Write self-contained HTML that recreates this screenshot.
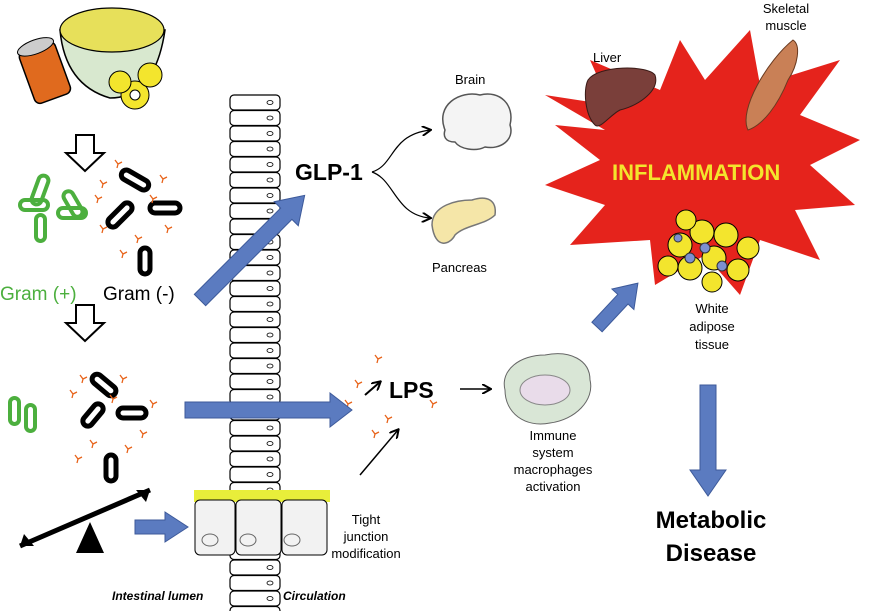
<!DOCTYPE html>
<html><head><meta charset="utf-8"><style>
html,body{margin:0;padding:0;background:#fff}
svg{display:block}
text{font-family:"Liberation Sans",sans-serif}
</style></head><body>
<svg width="876" height="611" viewBox="0 0 876 611" xmlns="http://www.w3.org/2000/svg">
<defs>
<marker id="ah" markerWidth="10" markerHeight="10" refX="8" refY="5" orient="auto" markerUnits="userSpaceOnUse"><path d="M0,0 L9,5 L0,10" fill="none" stroke="#000" stroke-width="2"/></marker>
<g id="cell"><rect x="0" y="0" width="50" height="15" rx="4" fill="#fff" stroke="#000" stroke-width="1.2"/><ellipse cx="40" cy="7.5" rx="3" ry="2" fill="none" stroke="#000" stroke-width="0.8"/></g>
<g id="lps" stroke="#e8641b" stroke-width="1.3" fill="none"><path d="M0,0 l3,4 l4,-2 M3,4 l-1,4"/></g>
</defs>

<g id="col">
<use href="#cell" x="230" y="95"/><use href="#cell" x="230" y="110.5"/><use href="#cell" x="230" y="126"/><use href="#cell" x="230" y="141.5"/><use href="#cell" x="230" y="157"/><use href="#cell" x="230" y="172.5"/><use href="#cell" x="230" y="188"/><use href="#cell" x="230" y="203.5"/><use href="#cell" x="230" y="219"/><use href="#cell" x="230" y="234.5"/><use href="#cell" x="230" y="250"/><use href="#cell" x="230" y="265.5"/><use href="#cell" x="230" y="281"/><use href="#cell" x="230" y="296.5"/><use href="#cell" x="230" y="312"/><use href="#cell" x="230" y="327.5"/><use href="#cell" x="230" y="343"/><use href="#cell" x="230" y="358.5"/><use href="#cell" x="230" y="374"/><use href="#cell" x="230" y="389.5"/><use href="#cell" x="230" y="405"/><use href="#cell" x="230" y="420.5"/><use href="#cell" x="230" y="436"/><use href="#cell" x="230" y="451.5"/><use href="#cell" x="230" y="467"/><use href="#cell" x="230" y="482.5"/><use href="#cell" x="230" y="498"/><use href="#cell" x="230" y="513.5"/><use href="#cell" x="230" y="529"/><use href="#cell" x="230" y="544.5"/><use href="#cell" x="230" y="560"/><use href="#cell" x="230" y="575.5"/><use href="#cell" x="230" y="591"/><use href="#cell" x="230" y="606.5"/>
</g>

<!-- food -->
<g transform="rotate(-20 45 70)">
<rect x="25" y="45" width="38" height="55" rx="6" fill="#e06a1e" stroke="#000" stroke-width="1.5"/>
<ellipse cx="44" cy="45" rx="19" ry="7" fill="#ccc" stroke="#000"/>
</g>
<path d="M60,30 q5,55 50,68 q45,0 55,-68 z" fill="#d8e8cf" stroke="#000" stroke-width="1.5"/>
<ellipse cx="112" cy="30" rx="52" ry="22" fill="#e7e05a" stroke="#000" stroke-width="1.2"/>
<circle cx="135" cy="95" r="14" fill="#f3e52d" stroke="#000"/><circle cx="135" cy="95" r="5" fill="#fff" stroke="#000"/>
<circle cx="150" cy="75" r="12" fill="#f3e52d" stroke="#000"/>
<circle cx="120" cy="82" r="11" fill="#f3e52d" stroke="#000"/>

<!-- open arrows -->
<path d="M76,135 h18 v18 h10 l-19,18 l-19,-18 h10 z" fill="#fff" stroke="#000" stroke-width="2"/>
<path d="M76,305 h18 v18 h10 l-19,18 l-19,-18 h10 z" fill="#fff" stroke="#000" stroke-width="2"/>

<!-- green bacteria -->
<g fill="none" stroke="#4caf3e" stroke-width="4">
<rect x="35" y="175" width="10" height="30" rx="5" transform="rotate(20 40 190)"/>
<rect x="20" y="200" width="28" height="10" rx="5"/>
<rect x="36" y="215" width="9" height="26" rx="4.5"/>
<rect x="58" y="208" width="28" height="10" rx="5"/>
<rect x="68" y="190" width="10" height="28" rx="5" transform="rotate(-30 73 204)"/>
<rect x="10" y="398" width="9" height="26" rx="4.5"/>
<rect x="26" y="405" width="9" height="26" rx="4.5"/>
</g>
<g fill="none" stroke="#000" stroke-width="5">
<rect x="120" y="175" width="30" height="10" rx="5" transform="rotate(30 135 180)"/>
<rect x="105" y="210" width="30" height="10" rx="5" transform="rotate(-45 120 215)"/>
<rect x="150" y="203" width="30" height="10" rx="5"/>
<rect x="140" y="248" width="10" height="26" rx="5"/>
<rect x="90" y="380" width="28" height="10" rx="5" transform="rotate(40 104 385)"/>
<rect x="80" y="410" width="26" height="10" rx="5" transform="rotate(-50 93 415)"/>
<rect x="118" y="408" width="28" height="10" rx="5"/>
<rect x="106" y="455" width="10" height="26" rx="5"/>
</g>
<use href="#lps" x="100" y="180"/><use href="#lps" x="95" y="195"/><use href="#lps" x="160" y="175"/><use href="#lps" x="165" y="225"/><use href="#lps" x="135" y="235"/><use href="#lps" x="120" y="250"/><use href="#lps" x="100" y="225"/><use href="#lps" x="150" y="195"/><use href="#lps" x="115" y="160"/>
<use href="#lps" x="70" y="390"/><use href="#lps" x="80" y="375"/><use href="#lps" x="120" y="375"/><use href="#lps" x="150" y="400"/><use href="#lps" x="140" y="430"/><use href="#lps" x="90" y="440"/><use href="#lps" x="75" y="455"/><use href="#lps" x="125" y="445"/><use href="#lps" x="110" y="395"/>
<use href="#lps" x="375" y="355"/><use href="#lps" x="355" y="380"/><use href="#lps" x="345" y="400"/><use href="#lps" x="385" y="415"/><use href="#lps" x="372" y="430"/><use href="#lps" x="430" y="400"/>

<text x="0" y="300" font-size="19" fill="#4caf3e">Gram (+)</text>
<text x="103" y="300" font-size="19" fill="#000">Gram (-)</text>

<!-- blue arrows -->
<g fill="#5b7bc0" stroke="#3d5a9a" stroke-width="1">
<path d="M0,-8 H122 V-17 L148,0 L122,17 V8 H0 Z" transform="translate(200,300) rotate(-45)"/>
<path d="M185,402 H330 V393 L352,410 L330,427 V418 H185 Z"/>
<path d="M135,520 H165 V512 L188,527 L165,542 V534 H135 Z"/>
<path d="M0,-7 H38 V-15 L60,0 L38,15 V7 H0 Z" transform="translate(597,327) rotate(-47)"/>
<path d="M700,385 H716 V470 H726 L708,496 L690,470 H700 Z"/>
</g>

<text x="295" y="180" font-size="23" font-weight="bold">GLP-1</text>
<path d="M372,172 C395,165 390,135 430,130" fill="none" stroke="#000" stroke-width="1.2" marker-end="url(#ah)"/>
<path d="M372,172 C395,180 395,215 430,218" fill="none" stroke="#000" stroke-width="1.2" marker-end="url(#ah)"/>

<path d="M445,130 c-10,-25 15,-40 35,-35 c20,-5 35,10 30,30 c5,15 -10,25 -25,22 c-10,5 -25,2 -30,-5 c-10,0 -12,-6 -10,-12z" fill="#f4f4f4" stroke="#555" stroke-width="1.5"/>
<text x="455" y="84" font-size="13">Brain</text>
<path d="M432,225 c0,-20 25,-25 40,-25 c15,-5 25,0 23,15 c-10,10 -30,10 -40,20 c-5,10 -20,15 -23,-10z" fill="#f5e6a8" stroke="#777" stroke-width="1.5"/>
<text x="432" y="272" font-size="13">Pancreas</text>

<path d="M545,95 L610,105 L590,60 L660,90 L680,40 L705,80 L750,30 L760,85 L840,60 L800,115 L860,140 L810,165 L855,205 L795,210 L820,260 L760,240 L740,295 L705,255 L655,285 L650,240 L570,245 L605,205 L545,185 L600,160 L555,125 L605,130 Z" fill="#e5231c"/>
<text x="612" y="180" font-size="22" font-weight="bold" fill="#f3e52d">INFLAMMATION</text>
<path d="M588,80 c10,-15 60,-15 67,-5 c5,15 -15,30 -35,35 c-10,5 -20,20 -25,15 c-10,-10 -12,-35 -7,-45z" fill="#7a3f3a" stroke="#3a1a16"/>
<text x="593" y="62" font-size="13">Liver</text>
<path d="M748,130 c-10,-20 20,-70 45,-90 c8,5 5,25 -5,40 c-10,25 -25,45 -40,50z" fill="#c98056" stroke="#6a3a20"/>
<text x="786" y="13" font-size="13" text-anchor="middle">Skeletal</text>
<text x="786" y="30" font-size="13" text-anchor="middle">muscle</text>
<g fill="#f3e52d" stroke="#000">
<circle cx="680" cy="245" r="12"/><circle cx="702" cy="232" r="12"/><circle cx="726" cy="235" r="12"/><circle cx="748" cy="248" r="11"/><circle cx="690" cy="268" r="12"/><circle cx="714" cy="258" r="12"/><circle cx="738" cy="270" r="11"/><circle cx="668" cy="266" r="10"/><circle cx="712" cy="282" r="10"/><circle cx="686" cy="220" r="10"/>
</g>
<g fill="#7c8fd0" stroke="#333"><circle cx="705" cy="248" r="5"/><circle cx="690" cy="258" r="5"/><circle cx="722" cy="266" r="5"/><circle cx="678" cy="238" r="4"/></g>
<text x="712" y="313" font-size="13" text-anchor="middle">White</text>
<text x="712" y="331" font-size="13" text-anchor="middle">adipose</text>
<text x="712" y="349" font-size="13" text-anchor="middle">tissue</text>

<text x="389" y="398" font-size="23" font-weight="bold">LPS</text>
<line x1="365" y1="395" x2="380" y2="382" stroke="#000" stroke-width="2" marker-end="url(#ah)"/>
<line x1="460" y1="389" x2="490" y2="389" stroke="#000" stroke-width="1.5" marker-end="url(#ah)"/>
<line x1="360" y1="475" x2="398" y2="430" stroke="#000" stroke-width="1.5" marker-end="url(#ah)"/>

<path d="M505,390 c-5,-20 15,-35 40,-35 c25,-5 45,5 45,25 c5,20 -15,40 -40,43 c-25,5 -45,-10 -45,-33z" fill="#d9e6d6" stroke="#666"/>
<ellipse cx="545" cy="390" rx="25" ry="15" fill="#e9dcea" stroke="#888"/>
<text x="553" y="440" font-size="13" text-anchor="middle">Immune</text>
<text x="553" y="457" font-size="13" text-anchor="middle">system</text>
<text x="553" y="474" font-size="13" text-anchor="middle">macrophages</text>
<text x="553" y="491" font-size="13" text-anchor="middle">activation</text>

<line x1="20" y1="546" x2="150" y2="490" stroke="#000" stroke-width="5"/>
<path d="M150,490 l-14,0 l10,12z" fill="#000"/>
<path d="M20,546 l14,0 l-10,-12z" fill="#000"/>
<path d="M90,522 L76,553 L104,553 Z" fill="#000"/>

<rect x="194" y="490" width="136" height="12" fill="#e8ee3a"/>
<g fill="#f2f2f2" stroke="#000"><rect x="195" y="500" width="40" height="55" rx="5"/><rect x="236" y="500" width="45" height="55" rx="5"/><rect x="282" y="500" width="45" height="55" rx="5"/></g>
<g fill="none" stroke="#666"><ellipse cx="210" cy="540" rx="8" ry="6"/><ellipse cx="248" cy="540" rx="8" ry="6"/><ellipse cx="292" cy="540" rx="8" ry="6"/></g>
<text x="366" y="524" font-size="13" text-anchor="middle">Tight</text>
<text x="366" y="541" font-size="13" text-anchor="middle">junction</text>
<text x="366" y="558" font-size="13" text-anchor="middle">modification</text>

<text x="711" y="528" font-size="24" font-weight="bold" text-anchor="middle">Metabolic</text>
<text x="711" y="561" font-size="24" font-weight="bold" text-anchor="middle">Disease</text>

<text x="112" y="600" font-size="12" font-weight="bold" font-style="italic">Intestinal lumen</text>
<text x="283" y="600" font-size="12" font-weight="bold" font-style="italic">Circulation</text>
</svg>
</body></html>
